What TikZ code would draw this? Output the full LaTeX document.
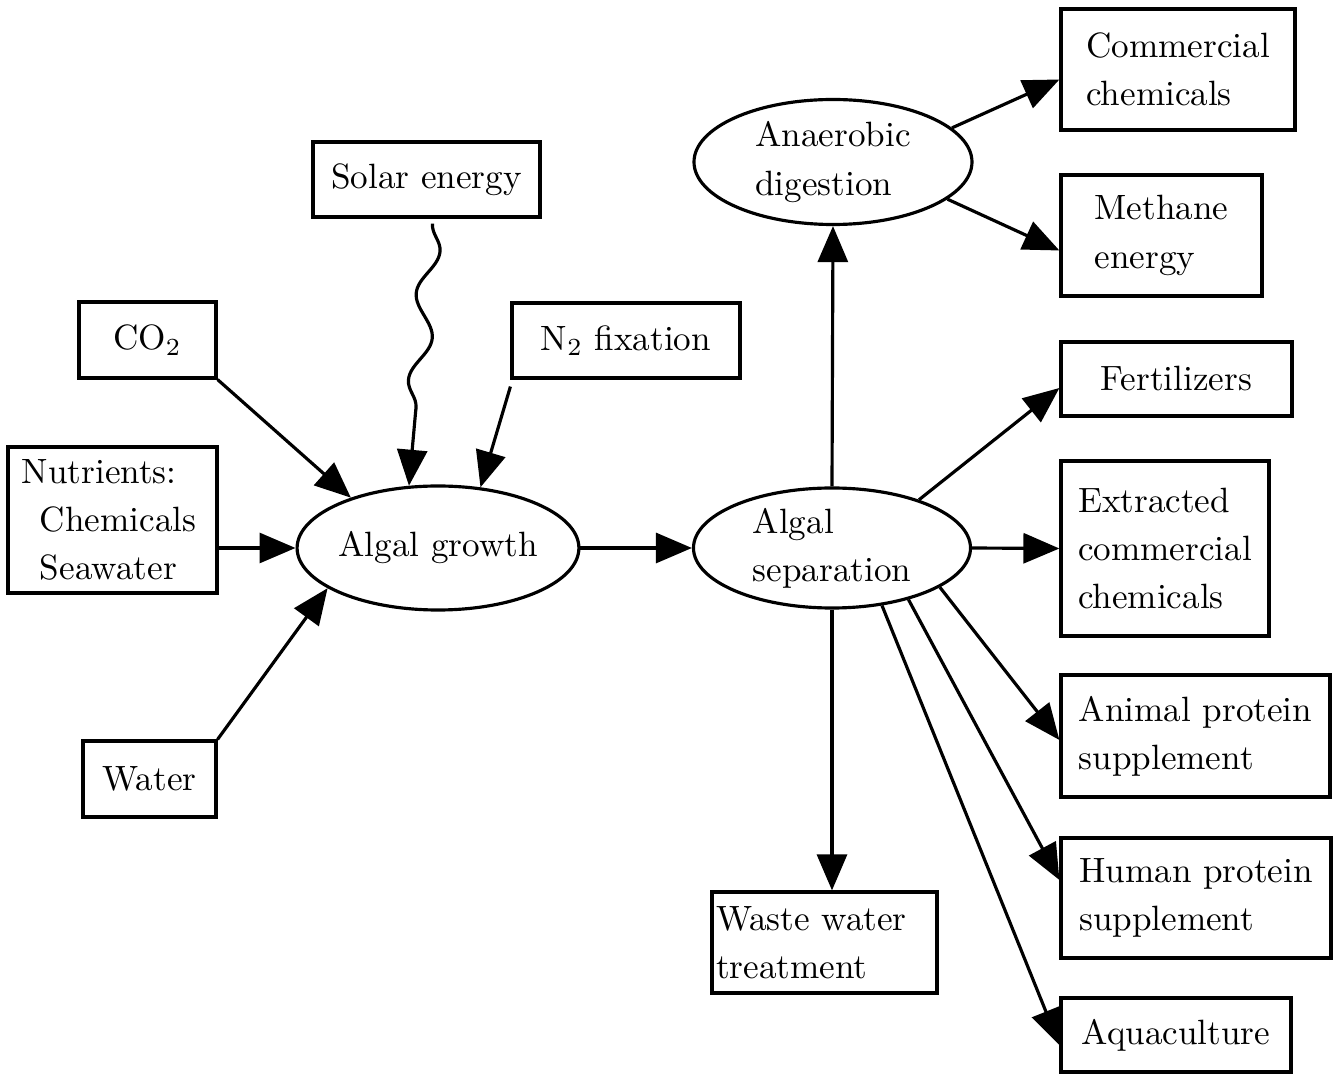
\documentclass[tikz,border=0pt]{standalone}
\usepackage{amsmath}
\usepackage{tikz}
\usetikzlibrary{arrows.meta,shapes.geometric,positioning,calc,decorations.pathmorphing}
\tikzset{
    product/.style={
    rectangle,draw=black,line width=0.9pt,inner sep=0pt,align=left
    },
    process/.style={
    ellipse,draw=black,line width=0.9pt,inner sep=0pt,align=left
    },
    flow/.style={
    -{Triangle[length=3.6mm,width=3mm]},line width=0.9pt
    },
    wavy/.style={
    decorate,decoration={snake,amplitude=1mm,segment length=8.7mm,post length=3.5mm}
    },
}

\begin{document}
\begin{tikzpicture}[font=\fontsize{10pt}{13.7pt}\selectfont]
   \useasboundingbox (0,0) rectangle (13.38,-10.74);

   % inputs
   \node[product, minimum width=2.27cm, minimum height=0.75cm] (solar) at (4.265,-1.795) {Solar energy};
   \node[product, minimum width=1.37cm, minimum height=0.76cm] (co2) at (1.475,-3.40) {CO$_2$};
   \node[product, minimum width=2.28cm, minimum height=0.75cm] (n2) at (6.26,-3.405) {N$_2$ fixation};
   \node[product, text width=1.81cm, inner xsep=0.14cm, minimum height=1.46cm] (nutr) at (1.125,-5.20)
        {Nutrients:\\\hspace*{0.18cm}Chemicals\\\hspace*{0.18cm}Seawater};
   \node[product, minimum width=1.33cm, minimum height=0.76cm] (water) at (1.495,-7.79) {Water};

   % processes
   \node[process, minimum width=2.70cm, minimum height=1.24cm] (growth) at (4.38,-5.48) {Algal growth};
   \node[process, minimum width=2.77cm, minimum height=1.20cm] (sep) at (8.32,-5.48) {Algal\\separation};
   \node[process, minimum width=2.78cm, minimum height=1.25cm] (anaer) at (8.33,-1.62) {Anaerobic\\digestion};

   % products
   \node[product, minimum width=2.34cm, minimum height=1.21cm] (comm) at (11.78,-0.695) {Commercial\\chemicals};
   \node[product, minimum width=2.01cm, minimum height=1.21cm] (meth) at (11.615,-2.355) {Methane\\energy};
   \node[product, minimum width=2.31cm, minimum height=0.74cm] (fert) at (11.765,-3.79) {Fertilizers};
   \node[product, minimum width=2.08cm, minimum height=1.75cm] (extr) at (11.65,-5.485) {Extracted\\commercial\\chemicals};
   \node[product, minimum width=2.69cm, minimum height=1.22cm] (animal) at (11.955,-7.36) {Animal protein\\supplement};
   \node[product, minimum width=2.70cm, minimum height=1.20cm] (human) at (11.96,-8.98) {Human protein\\supplement};
   \node[product, minimum width=2.30cm, minimum height=0.74cm] (aqua) at (11.76,-10.35) {Aquaculture};
   \node[product, text width=2.17cm, inner xsep=0.04cm, minimum height=1.01cm] (waste) at (8.245,-9.425)
        {Waste water\\treatment};

  \path[flow]
             (co2.south east)               edge          (growth.150)
             (nutr.east |- growth.west)     edge          (growth.west)
             (water.north east)             edge          (growth.200)
             ([xshift=0.06cm,yshift=-0.05cm]solar.south) edge [wavy] (growth.115)
             ([yshift=-0.07cm]n2.south west) edge         (growth.55)
             (growth)                       edge          (sep)
             (sep.north)                    edge          (anaer.south)
             (anaer.16)                     edge          ([yshift=-0.1cm]comm.west)
             (anaer.342)                    edge          ([yshift=-0.15cm]meth.west)
             (sep.29)                       edge          ([yshift=-0.09cm]fert.west)
             (sep.east)                     edge          (extr.west)
             (sep.340)                      edge          ([yshift=-0.04cm]animal.west)
             (sep.326)                      edge          ([yshift=0.18cm]human.west)
             (sep.311)                      edge          ([yshift=-0.1cm]aqua.west)
             (sep.south)                    edge          (sep.south |- waste.north);
\end{tikzpicture}
\end{document}
